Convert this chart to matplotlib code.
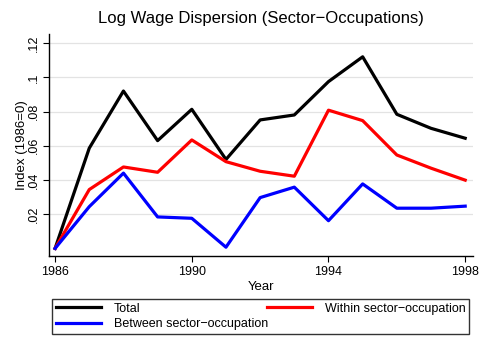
import matplotlib
matplotlib.use('Agg')
import matplotlib.pyplot as plt

plt.rcParams['font.family'] = ['Liberation Sans', 'DejaVu Sans']

years = [1986, 1987, 1988, 1989, 1990, 1991, 1992, 1993, 1994, 1995, 1996, 1997, 1998]
total = [0.0, 0.0586, 0.092, 0.063, 0.0813, 0.052, 0.0751, 0.078, 0.0975, 0.112, 0.0784, 0.0702, 0.0644]
within = [0.0, 0.0344, 0.0476, 0.0445, 0.0634, 0.0507, 0.0451, 0.0422, 0.0808, 0.0747, 0.0546, 0.0469, 0.0399]
between = [0.0, 0.0244, 0.044, 0.0184, 0.0176, 0.0007, 0.0297, 0.0358, 0.0162, 0.0377, 0.0235, 0.0235, 0.0247]

x_ticks = [1986, 1990, 1994, 1998]
y_ticks = [0.02, 0.04, 0.06, 0.08, 0.10, 0.12]
y_labels = ['.02', '.04', '.06', '.08', '.1', '.12']

fig = plt.figure(figsize=(4.86, 3.53), dpi=100)
ax = fig.add_axes([0.100, 0.275, 0.873, 0.629])

lw = 2.3
h_total, = ax.plot(years, total, color='black', lw=lw, label='Total')
h_within, = ax.plot(years, within, color='#ff0000', lw=lw, label='Within sector\u2212occupation')
h_between, = ax.plot(years, between, color='#0000ff', lw=lw, label='Between sector\u2212occupation')

ax.set_xlim(1985.81, 1998.225)
ax.set_ylim(-0.0044, 0.1254)
ax.set_xticks(x_ticks)
ax.set_yticks(y_ticks)
ax.set_yticklabels(y_labels, rotation=90, va='center')
ax.tick_params(axis='both', labelsize=9, length=4, width=0.8, direction='out')
ax.tick_params(axis='y', pad=2)
ax.grid(axis='y', color='#e3e3e3', lw=0.9)
ax.set_axisbelow(True)
for s in ['top', 'right']:
    ax.spines[s].set_visible(False)
for s in ['left', 'bottom']:
    ax.spines[s].set_linewidth(1.0)

ax.set_xlabel('Year', fontsize=9.5, labelpad=2)
ax.set_ylabel('Index (1986=0)', fontsize=9.5, labelpad=0)
ax.set_title('Log Wage Dispersion (Sector\u2212Occupations)', fontsize=12, pad=8)

leg = fig.legend([h_total, h_between, h_within],
                 ['Total', 'Between sector\u2212occupation', 'Within sector\u2212occupation'],
                 ncol=2, loc='center', mode='expand',
                 bbox_to_anchor=(0.1076, 0.046, 0.858, 0.1155),
                 fontsize=9, frameon=True, fancybox=False, borderaxespad=0,
                 handlelength=3.6, handletextpad=1.0, labelspacing=0.25,
                 borderpad=0.3)
leg.get_frame().set_edgecolor('black')
leg.get_frame().set_linewidth(1.0)

fig.savefig('out.png', dpi=100)
